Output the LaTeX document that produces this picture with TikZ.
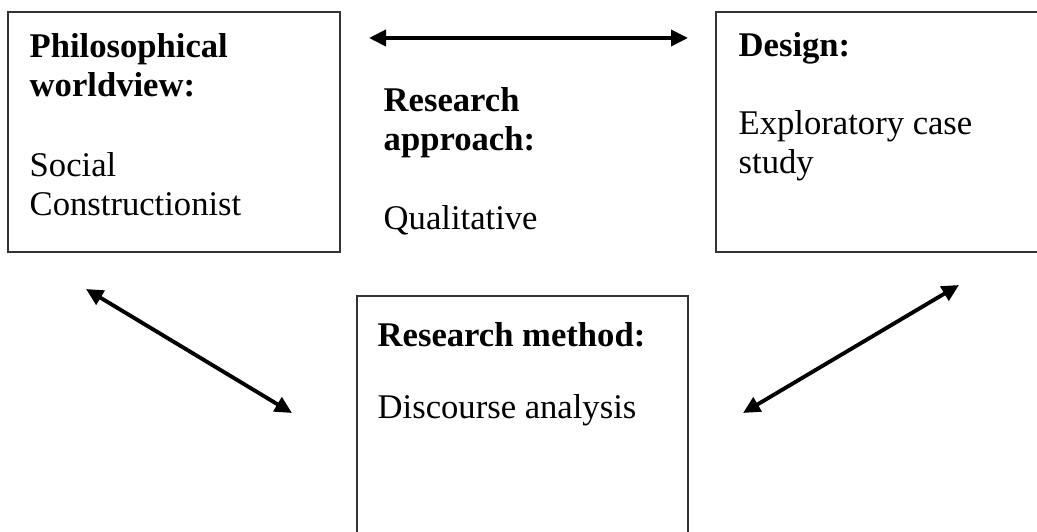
\documentclass[tikz,border=0pt]{standalone}
\usepackage{fontspec}
\setmainfont{Liberation Serif}
\usetikzlibrary{arrows.meta}

\begin{document}
\begin{tikzpicture}
	\tikzstyle{box} = [draw=black!80, line width=0.5pt, rectangle, inner sep=0pt]
	\tikzstyle{txt} = [anchor=north west, align=left, inner sep=0pt, font=\fontsize{9.85pt}{11.1pt}\selectfont]
	\tikzstyle{link} = [line width=1.1pt, {Triangle[length=0.17cm,width=0.16cm]}-{Triangle[length=0.17cm,width=0.16cm]}]
	\clip (0,0) rectangle (10.37,-5.32);
	\node [box, minimum width=3.32cm, minimum height=2.40cm] (world) at (1.74, -1.32) {};
	\node [box, minimum width=3.29cm, minimum height=2.40cm] (design) at (8.805, -1.32) {};
	\node [box, minimum width=3.31cm, minimum height=2.49cm] (method) at (5.225, -4.205) {};
	\node [txt] (worldhead) at (0.29, -0.325) {\textbf{Philosophical}\\\textbf{worldview:}};
	\node [txt] (worldbody) at (0.29, -1.514) {Social\\Constructionist};
	\node [txt] (approachhead) at (3.83, -0.87) {\textbf{Research}\\\textbf{approach:}};
	\node [txt] (approachbody) at (3.83, -2.044) {Qualitative};
	\node [txt] (designhead) at (7.38, -0.316) {\textbf{Design:}};
	\node [txt] (designbody) at (7.38, -1.10) {Exploratory case\\study};
	\node [txt] (methodhead) at (3.77, -3.215) {\textbf{Research method:}};
	\node [txt] (methodbody) at (3.77, -3.934) {Discourse analysis};
	\coordinate (ha1) at (3.69, -0.38);
	\coordinate (ha2) at (6.88, -0.38);
	\coordinate (la1) at (0.86, -2.89);
	\coordinate (la2) at (2.92, -4.13);
	\coordinate (ra1) at (7.43, -4.13);
	\coordinate (ra2) at (9.59, -2.85);
	\draw [link] (ha1)--(ha2);
	\draw [link] (la1)--(la2);
	\draw [link] (ra1)--(ra2);
\end{tikzpicture}
\end{document}
